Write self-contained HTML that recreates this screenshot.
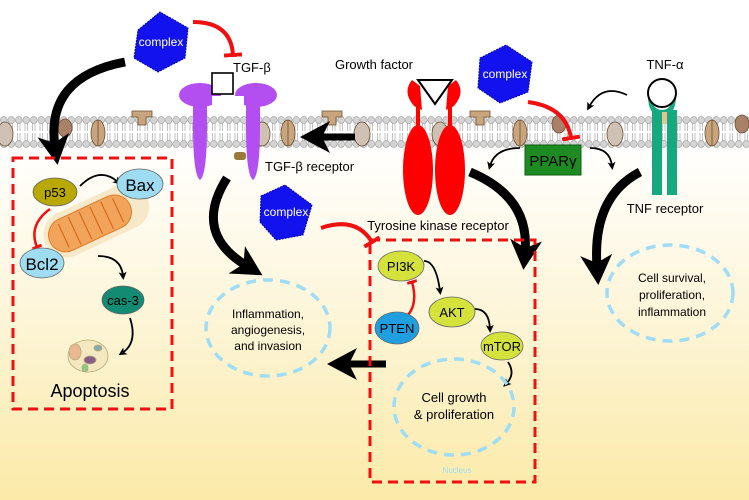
<!DOCTYPE html>
<html><head><meta charset="utf-8"><style>
html,body{margin:0;padding:0;width:749px;height:500px;overflow:hidden}
svg{display:block}
text{font-family:"Liberation Sans",Arial,sans-serif}
</style></head><body>
<svg width="749" height="500" viewBox="0 0 749 500" xmlns="http://www.w3.org/2000/svg">
<defs>
<linearGradient id="bg" x1="0" y1="0" x2="0" y2="1">
<stop offset="0" stop-color="#ffffff"/><stop offset="0.28" stop-color="#ffffff"/>
<stop offset="0.6" stop-color="#fdf6dc"/><stop offset="1" stop-color="#fbeaa8"/>
</linearGradient>
<pattern id="mem" x="0" y="116" width="7.5" height="32" patternUnits="userSpaceOnUse">
<line x1="2.5" y1="7" x2="2.5" y2="15" stroke="#999" stroke-width="0.6"/>
<line x1="5" y1="7" x2="5" y2="15" stroke="#999" stroke-width="0.6"/>
<line x1="2.5" y1="17" x2="2.5" y2="25" stroke="#999" stroke-width="0.6"/>
<line x1="5" y1="17" x2="5" y2="25" stroke="#999" stroke-width="0.6"/>
<circle cx="3.75" cy="4" r="3.4" fill="#d4d4d4" stroke="#9a9a9a" stroke-width="0.6"/>
<circle cx="3.75" cy="28" r="3.4" fill="#d4d4d4" stroke="#9a9a9a" stroke-width="0.6"/>
</pattern>
<marker id="ah" markerWidth="8" markerHeight="8" refX="4" refY="4" orient="auto" markerUnits="userSpaceOnUse"><path d="M0,0 L8,4 L0,8 L2,4Z" fill="#000"/></marker>
<marker id="bh" markerWidth="32" markerHeight="32" refX="12" refY="16" orient="auto" markerUnits="userSpaceOnUse"><path d="M0,0 L30,16 L0,32 L8,16Z" fill="#000"/></marker>
<marker id="tb" markerWidth="4" markerHeight="18" refX="2" refY="9" orient="auto" markerUnits="userSpaceOnUse"><rect x="0" y="0" width="4" height="18" fill="#f01010"/></marker>
<marker id="tbs" markerWidth="3" markerHeight="10" refX="1.5" refY="5" orient="auto" markerUnits="userSpaceOnUse"><rect x="0" y="0" width="3" height="10" fill="#f01010"/></marker>
</defs>
<rect width="749" height="500" fill="url(#bg)"/>
<rect x="0" y="116" width="749" height="32" fill="url(#mem)"/>
<g fill="#c9a57d" stroke="#6b4e32" stroke-width="0.8">
<ellipse cx="65" cy="128" rx="7" ry="9" fill="#a98068"/>
<ellipse cx="98" cy="133" rx="7" ry="13"/><line x1="98" y1="120" x2="98" y2="146"/>
<path d="M132,111 h20 v6 h-6 v8 h-8 v-8 h-6z"/>
<ellipse cx="288" cy="133" rx="7" ry="13"/><line x1="288" y1="120" x2="288" y2="146"/>
<path d="M322,111 h20 v6 h-6 v8 h-8 v-8 h-6z"/>
<ellipse cx="362" cy="134" rx="8" ry="12" fill="#cfc2b5"/>
<path d="M470,111 h20 v6 h-6 v8 h-8 v-8 h-6z"/>
<ellipse cx="520" cy="133" rx="7" ry="13"/><line x1="520" y1="120" x2="520" y2="146"/>
<ellipse cx="559" cy="124" rx="7" ry="9" fill="#a98068"/>
<ellipse cx="615" cy="134" rx="8" ry="12" fill="#cfc2b5"/>
<ellipse cx="712" cy="133" rx="7" ry="13"/><line x1="712" y1="120" x2="712" y2="146"/>
<ellipse cx="742" cy="124" rx="7" ry="9" fill="#a98068"/>
<ellipse cx="262" cy="134" rx="8" ry="12" fill="#cfc2b5"/>
<ellipse cx="440" cy="134" rx="8" ry="12" fill="#cfc2b5"/>
<ellipse cx="5" cy="134" rx="8" ry="12" fill="#cfc2b5"/>
</g>
<g fill="#b34ff0">
<ellipse cx="200" cy="95" rx="21" ry="12"/>
<ellipse cx="256" cy="95" rx="21" ry="12"/>
<path d="M193,105 h14 v20 q0,50 -7,55 q-7,-5 -7,-55z"/>
<path d="M246,105 h14 v20 q0,50 -7,55 q-7,-5 -7,-55z"/>
</g>
<rect x="212" y="96" width="32" height="12" fill="#fff"/>
<rect x="212" y="73" width="21" height="21" fill="#fff" stroke="#000" stroke-width="1.6"/>
<rect x="234" y="152" width="12" height="8" rx="3" fill="#9a7a3a"/>
<text x="233" y="72" font-size="13">TGF-β</text>
<text x="265" y="171" font-size="13">TGF-β receptor</text>
<g fill="#ff0000">
<ellipse cx="418" cy="170" rx="15" ry="45"/>
<ellipse cx="450" cy="170" rx="15" ry="45"/>
<rect x="416" y="100" width="4" height="40"/><rect x="448" y="100" width="4" height="40"/>
<path d="M412,80 q-10,12 2,26 l8,4 l-2,-24z"/>
<path d="M456,80 q10,12 -2,26 l-8,4 l2,-24z"/>
</g>
<path d="M418,80 L452,80 L435,104Z" fill="#fff" stroke="#000" stroke-width="2"/>
<text x="374" y="69" font-size="13" text-anchor="middle">Growth factor</text>
<text x="438" y="230" font-size="13" text-anchor="middle">Tyrosine kinase receptor</text>
<path d="M648,96 q0,20 14,20 q14,0 14,-20 h-4 q0,14 -10,14 q-10,0 -10,-14z" fill="#16a87e"/>
<rect x="652" y="110" width="10" height="85" fill="#16a87e"/>
<rect x="667" y="110" width="10" height="85" fill="#16a87e"/>
<rect x="662" y="112" width="5" height="12" fill="#e7c393"/>
<circle cx="662" cy="93" r="14" fill="#fff" stroke="#000" stroke-width="2"/>
<text x="665" y="69" font-size="13" text-anchor="middle">TNF-α</text>
<text x="665" y="213" font-size="13" text-anchor="middle">TNF receptor</text>
<rect x="525" y="145" width="56" height="30" fill="#1d8a22" stroke="#0e5e12"/>
<text x="553" y="166" font-size="15" text-anchor="middle">PPARγ</text>
<g fill="#1212ee" stroke="#0000aa" stroke-width="1" stroke-dasharray="2 1">
<path d="M138,30 L160,12 L188,28 L185,58 L158,72 L134,58Z"/>
<path d="M261,196 L285,185 L312,205 L303,235 L276,240 L260,222Z"/>
<path d="M480,58 L506,45 L532,62 L528,92 L500,103 L478,88Z"/>
</g>
<g fill="#fff" font-size="12" text-anchor="middle">
<text x="161" y="46">complex</text><text x="286" y="216">complex</text><text x="505" y="78">complex</text>
</g>
<g fill="none" stroke="#f01010" stroke-width="4">
<path d="M193,22 q38,0 40,33" marker-end="url(#tb)"/>
<path d="M321,228 q35,-12 51,14" marker-end="url(#tb)"/>
<path d="M528,102 q38,5 43,36" marker-end="url(#tb)"/>
</g>
<g fill="none" stroke="#000" stroke-width="9">
<path d="M125,62 q-80,15 -70,85" marker-end="url(#bh)"/>
<path d="M227,178 q-35,55 20,88" marker-end="url(#bh)"/>
<path d="M470,172 q60,25 55,80" marker-end="url(#bh)"/>
<path d="M640,172 q-48,25 -43,95" marker-end="url(#bh)"/>
<path d="M355,137 H318" marker-end="url(#bh)" stroke-width="7"/>
<path d="M386,364 H345" marker-end="url(#bh)" stroke-width="7"/>
</g>
<g fill="none" stroke="#000" stroke-width="1.8">
<path d="M627,95 q-25,-12 -38,12" marker-end="url(#ah)"/>
<path d="M520,148 q-25,0 -30,18" marker-end="url(#ah)"/>
<path d="M590,148 q20,0 22,18" marker-end="url(#ah)"/>
<path d="M80,186 q20,-20 38,-4" marker-end="url(#ah)"/>
<path d="M98,256 q23,0 25,20" marker-end="url(#ah)"/>
<path d="M130,318 q8,25 -8,35" marker-end="url(#ah)"/>
<path d="M424,261 q12,0 16,30" marker-end="url(#ah)"/>
<path d="M475,309 q14,0 15,20" marker-end="url(#ah)"/>
<path d="M508,362 q8,12 -2,22" marker-end="url(#ah)"/>
</g>
<g fill="none" stroke="#f01010" stroke-width="2.5">
<path d="M50,209 q-22,16 -13,38" marker-end="url(#tbs)"/>
<path d="M408,315 q10,-12 4,-33" marker-end="url(#tbs)"/>
</g>
<g fill="none" stroke="#f01010" stroke-width="3" stroke-dasharray="10 6">
<rect x="13" y="158" width="159" height="251"/>
<rect x="370" y="240" width="165" height="242"/>
</g>
<g transform="rotate(-25 95 220)">
<rect x="40" y="198" width="112" height="46" rx="23" fill="#f6e6c4" opacity="0.9"/>
<rect x="45" y="204" width="88" height="34" rx="17" fill="#f2a55a" stroke="#e07a2c"/>
<g stroke="#d9681e" stroke-width="1.2"><line x1="60" y1="208" x2="60" y2="234"/><line x1="72" y1="206" x2="72" y2="236"/><line x1="84" y1="206" x2="84" y2="236"/><line x1="96" y1="206" x2="96" y2="236"/><line x1="108" y1="206" x2="108" y2="236"/><line x1="120" y1="208" x2="120" y2="234"/></g>
</g>
<g stroke="#b8a878" stroke-width="0.8">
<ellipse cx="88" cy="356" rx="20" ry="16" fill="#f4e8c0"/>
<ellipse cx="75" cy="352" rx="6" ry="8" fill="#e8b890"/>
<ellipse cx="90" cy="360" rx="6" ry="4" fill="#8a5c8a"/>
<ellipse cx="98" cy="348" rx="4" ry="3" fill="#8aa"/>
<ellipse cx="85" cy="368" rx="3" ry="4" fill="#8c8"/>
</g>
<text x="90" y="397" font-size="18" text-anchor="middle">Apoptosis</text>
<g stroke="#666" stroke-width="0.8" font-size="13">
<ellipse cx="55" cy="192" rx="22" ry="14" fill="#b8a800"/>
<ellipse cx="140" cy="184" rx="23" ry="15" fill="#9edcf2"/>
<ellipse cx="42" cy="263" rx="22" ry="15" fill="#9edcf2"/>
<ellipse cx="123" cy="300" rx="21" ry="14" fill="#138a72"/>
<ellipse cx="401" cy="266" rx="23" ry="15" fill="#d6e23c"/>
<ellipse cx="452" cy="312" rx="23" ry="15" fill="#d6e23c"/>
<ellipse cx="397" cy="328" rx="22" ry="16" fill="#1f9ee0"/>
<ellipse cx="502" cy="346" rx="21" ry="14" fill="#d6e23c"/>
</g>
<g font-size="13" text-anchor="middle">
<text x="55" y="197">p53</text>
<text x="140" y="191" font-size="17">Bax</text>
<text x="42" y="270" font-size="17">Bcl2</text>
<text x="123" y="305">cas-3</text>
<text x="401" y="271">PI3K</text>
<text x="452" y="317">AKT</text>
<text x="397" y="333">PTEN</text>
<text x="502" y="351">mTOR</text>
</g>
<g fill="none" stroke="#9fdcf5" stroke-width="3.5" stroke-dasharray="10 7">
<ellipse cx="268" cy="328" rx="62" ry="48"/>
<ellipse cx="670" cy="293" rx="63" ry="48"/>
<ellipse cx="454" cy="407" rx="60" ry="48"/>
</g>
<g font-size="12" text-anchor="middle">
<text x="268" y="318">Inflammation,</text><text x="268" y="334">angiogenesis,</text><text x="268" y="350">and invasion</text>
<text x="672" y="282">Cell survival,</text><text x="672" y="299">proliferation,</text><text x="672" y="316">inflammation</text>
<text x="454" y="402" font-size="13">Cell growth</text><text x="454" y="419" font-size="13">&amp; proliferation</text>
</g>
<text x="457" y="473" font-size="8" fill="#9fdcf5" text-anchor="middle">Nucleus</text>
</svg>
</body></html>
